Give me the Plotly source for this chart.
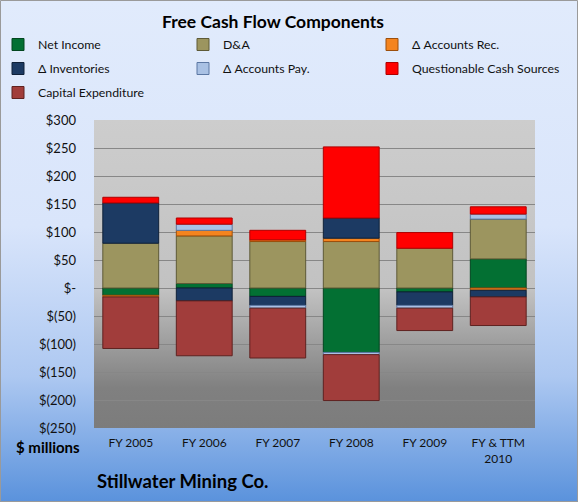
import base64

import plotly.graph_objects as go

# values in $ millions
categories = ["FY 2005", "FY 2006", "FY 2007", "FY 2008", "FY 2009", "FY & TTM<br>2010"]
net_income = [-13, 8, -15, -115, -7, 52]
d_and_a = [80, 85, 83, 83, 71, 71]
accounts_rec = [-3, 10, 3, 6, None, -4]
inventories = [72, -23, -16, 36, -24, -12]
accounts_pay = [None, 11, -5, -4, -5, 9]
questionable = [10, 11, 17, 127, 28, 13]
capex = [-92, -98, -89, -82, -40, -51]

y_ticks = [-250, -200, -150, -100, -50, 0, 50, 100, 150, 200, 250, 300]

W, H = 578, 502
L, R, T, B = 94, 43, 120, 74
PW, PH = W - L - R, H - T - B
FONT = "Lato"


def money(v):
    if v == 0:
        return "$-"
    if v < 0:
        return "$({})".format(-v)
    return "${}".format(v)


def gradient(stops):
    """ svg data uri with a vertical linear gradient """
    s = "".join('<stop offset="{}" stop-color="{}"/>'.format(o, c) for o, c in stops)
    svg = ('<svg xmlns="http://www.w3.org/2000/svg" width="10" height="100" viewBox="0 0 10 100" '
           'preserveAspectRatio="none"><defs><linearGradient id="g" x1="0" y1="0" x2="0" y2="1">'
           + s + '</linearGradient></defs><rect width="10" height="100" fill="url(#g)"/></svg>')
    return "data:image/svg+xml;base64," + base64.b64encode(svg.encode()).decode()


def px_x(p):
    return (p - L) / PW


def px_y(p):
    return 1 - (p - T) / PH


# name, values, fill, edge, legend column
series = [
    ("Net Income", net_income, "#037033", "#02461f", "legend"),
    ("D&A", d_and_a, "#9c955f", "#5e5a37", "legend2"),
    ("Δ Accounts Rec.", accounts_rec, "#f4841f", "#9c4f0c", "legend3"),
    ("Δ Inventories", inventories, "#1c3a63", "#0f2038", "legend"),
    ("Δ Accounts Pay.", accounts_pay, "#a9c1e4", "#5b77a3", "legend2"),
    ("Questionable Cash Sources", questionable, "#ff0000", "#b00000", "legend3"),
    ("Capital Expenditure", capex, "#a13d3b", "#5f2220", "legend"),
]

fig = go.Figure()
for name, vals, color, edge, leg in series:
    fig.add_trace(go.Bar(
        x=categories, y=vals, name=name, legend=leg, legendgroup=name,
        marker={"color": color, "line": {"color": edge, "width": 1}},
    ))

legend_style = dict(
    orientation="v", xanchor="left", yanchor="top", y=px_y(30), tracegroupgap=5,
    bgcolor="rgba(0,0,0,0)", font={"family": FONT, "size": 12.3, "color": "#111"},
    itemclick=False,
)

fig.update_layout(
    width=W, height=H,
    margin={"l": L, "r": R, "t": T, "b": B, "autoexpand": False},
    barmode="relative", bargap=0.24,
    paper_bgcolor="#dfe9fb", plot_bgcolor="rgba(0,0,0,0)",
    font={"family": FONT, "size": 13, "color": "#111"},
    title={"text": "Free Cash Flow Components", "x": 273 / W, "xanchor": "center",
           "y": 1 - 22 / H, "yanchor": "middle",
           "font": {"family": FONT, "size": 17.5, "weight": "bold", "color": "#000"}},
    legend=dict(legend_style, x=px_x(-2)),
    legend2=dict(legend_style, x=px_x(183)),
    legend3=dict(legend_style, x=px_x(372)),
    xaxis={"showgrid": False, "ticks": "", "tickfont": {"size": 12}, "showline": False,
           "ticklabelstandoff": 6},
    yaxis={"range": [-250, 300], "tickvals": y_ticks, "ticktext": [money(v) for v in y_ticks],
           "showgrid": True, "gridcolor": "#878787", "gridwidth": 1,
           "zeroline": True, "zerolinecolor": "#878787", "zerolinewidth": 1,
           "ticks": "", "ticklabelstandoff": 17, "tickfont": {"size": 13}},
    images=[
        dict(source=gradient([(0, "#e1ebfc"), (0.45, "#d9e5fb"), (0.75, "#adc8f1"), (1, "#5a92dc")]),
             xref="paper", yref="paper", x=px_x(0), y=px_y(0), sizex=W / PW, sizey=H / PH,
             xanchor="left", yanchor="top", sizing="stretch", layer="below"),
        dict(source=gradient([(0, "#cdcdcd"), (0.55, "#c2c2c2"), (0.87, "#808080"), (1, "#7c7c7c")]),
             xref="paper", yref="paper", x=0, y=1, sizex=1, sizey=1,
             xanchor="left", yanchor="top", sizing="stretch", layer="below"),
    ],
    shapes=[
        dict(type="rect", xref="paper", yref="paper",
             x0=px_x(0.5), x1=px_x(W - 0.5), y0=px_y(H - 0.5), y1=px_y(0.5),
             line={"color": "#9a9a9a", "width": 1}),
    ],
    annotations=[
        dict(text="<b>$ millions</b>", xref="paper", yref="paper", x=px_x(82), y=px_y(447),
             xanchor="right", yanchor="middle", showarrow=False, font={"size": 15, "color": "#000"}),
        dict(text="<b>Stillwater Mining Co.</b>", xref="paper", yref="paper", x=px_x(95), y=px_y(481),
             xanchor="left", yanchor="middle", showarrow=False, font={"size": 18.5, "color": "#000"}),
    ],
)

fig.write_html("out.html", config={"displayModeBar": False},
               post_script="document.body.style.margin = '0';")
